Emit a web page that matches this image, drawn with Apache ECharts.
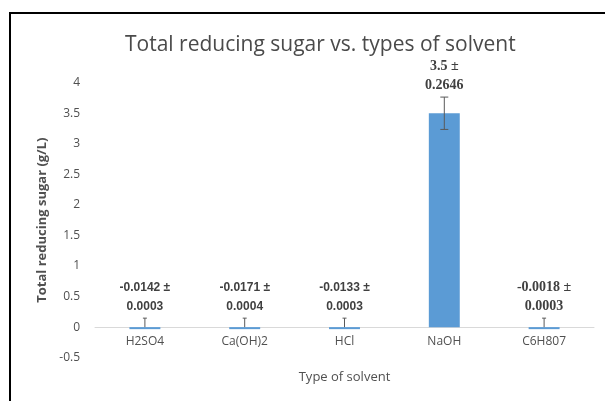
<!DOCTYPE html>
<html><head><meta charset="utf-8">
<script src="https://cdn.jsdelivr.net/npm/echarts@6/dist/echarts.min.js"></script>
<style>html,body{margin:0;padding:0;background:#fff}#c{width:605px;height:401px}</style>
</head><body><div id="c"></div>
<script>
const categories = ['H2SO4', 'Ca(OH)2', 'HCl', 'NaOH', 'C6H807'];
const values = [-0.0142, -0.0171, -0.0133, 3.5, -0.0018];
const errors = [0.0003, 0.0004, 0.0003, 0.2646, 0.0003];
const valueText = ['-0.0142', '-0.0171', '-0.0133', '3.5', '-0.0018'];
const errorText = ['0.0003', '0.0004', '0.0003', '0.2646', '0.0003'];
const labelSerif = [false, false, false, true, true];

const chart = echarts.init(document.getElementById('c'));
const grey = '#505050';
chart.setOption({
  animation: false,
  backgroundColor: '#fff',
  graphic: [{type: 'rect', shape: {x: 10, y: 13, width: 700, height: 500}, style: {fill: 'none', stroke: '#000', lineWidth: 2}}],
  title: {
    text: 'Total reducing sugar vs. types of solvent',
    left: 120, top: 30,
    textStyle: {fontFamily: 'Open Sans', fontSize: 21, fontWeight: 'normal', color: '#4a4a4a'}
  },
  grid: {left: 95, right: 11, top: 82.7, bottom: 43.3, outerBoundsMode: 'none', containLabel: false},
  xAxis: {
    type: 'category', data: categories,
    axisLine: {onZero: true, lineStyle: {color: '#d9d9d9', width: 1}},
    axisTick: {show: false},
    axisLabel: {color: grey, fontFamily: 'Open Sans', fontSize: 12, margin: -22},
    name: 'Type of solvent', nameLocation: 'middle', nameGap: 13, nameMoveOverlap: false,
    nameTextStyle: {color: grey, fontFamily: 'Open Sans', fontSize: 13}
  },
  yAxis: {
    type: 'value', min: -0.5, max: 4, interval: 0.5,
    splitLine: {show: false},
    axisLine: {show: false}, axisTick: {show: false},
    axisLabel: {color: grey, fontFamily: 'Open Sans', fontSize: 12, margin: 15},
    name: 'Total reducing sugar (g/L)', nameLocation: 'middle', nameGap: 45,
    nameTextStyle: {color: grey, fontFamily: 'Open Sans', fontSize: 13, fontWeight: 'bold'}
  },
  series: [
    {
      type: 'bar', data: values, barWidth: '31%', barMinHeight: 2,
      itemStyle: {color: '#5b9bd5'}
    },
    {
      type: 'custom',
      data: values.map((v, i) => [i, v, errors[i]]),
      z: 5,
      renderItem: function (params, api) {
        const i = api.value(0), v = api.value(1), e = api.value(2);
        const hi = api.coord([i, v + e]);
        const lo = api.coord([i, v - e]);
        const zero = api.coord([i, 0]);
        let top = hi[1], bot = lo[1];
        const minStub = 9;
        let stub = false;
        if (zero[1] - top < minStub) { top = zero[1] - minStub; bot = zero[1]; stub = true; }
        const x = hi[0];
        const cap = stub ? 2 : 4;
        const stroke = {stroke: '#595959', lineWidth: 1};
        const serif = labelSerif[i];
        const txt = valueText[i] + ' ±\n' + errorText[i];
        const children = [
          {type: 'line', shape: {x1: x, y1: top, x2: x, y2: bot}, style: stroke},
          {type: 'line', shape: {x1: x - cap, y1: top, x2: x + cap, y2: top}, style: stroke},
          {type: 'text', x: x, y: top - 2,
            style: {
              text: txt, align: 'center', verticalAlign: 'bottom',
              fontFamily: serif ? 'Liberation Serif' : 'Liberation Sans',
              fontSize: serif ? 14 : 12, fontWeight: 'bold',
              lineHeight: 19, fill: '#404040'
            }}
        ];
        if (!stub) children.push({type: 'line', shape: {x1: x - cap, y1: bot, x2: x + cap, y2: bot}, style: stroke});
        return {type: 'group', children: children};
      }
    }
  ]
});
</script></body></html>
